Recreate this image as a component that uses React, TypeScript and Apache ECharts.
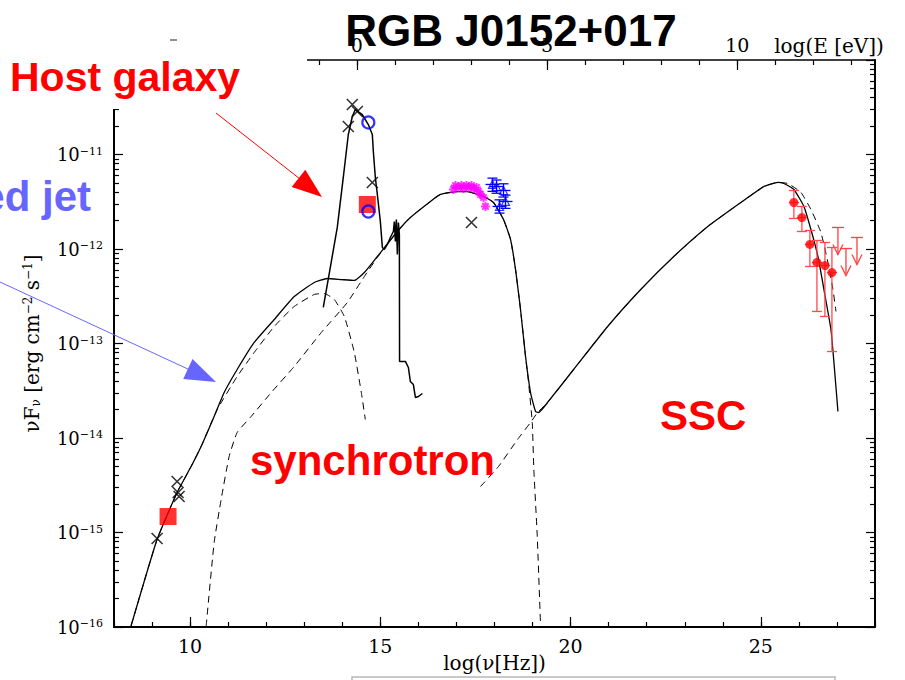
import React, { useEffect, useRef } from "react";
import * as echarts from "echarts";

// log10(h) with h in eV s : log E[eV] = log nu[Hz] + LOG_H_EV
const LOG_H_EV = -14.383;

// ---- Model curves: log(nu [Hz]) vs log(nuFnu [erg cm^-2 s^-1]) ----
const totalNu = [8.447, 9.132, 9.658, 10.026, 10.289, 10.632, 10.895, 11.237, 11.684, 12.211, 12.737, 13.263, 13.605, 13.974, 14.316, 14.579, 14.921, 15.447, 15.789, 16.316, 16.579, 17.026, 17.289, 17.711, 17.974, 18.237, 18.421, 18.553, 18.684, 18.816, 18.947, 19.079, 19.158, 19.395, 20.079, 20.974, 21.842, 22.711, 23.605, 24.474, 25.079, 25.447, 25.605, 25.868, 26.132, 26.316, 26.5, 26.658, 26.842, 26.921, 27.026];
const totalF = [-15.99, -15.074, -14.577, -14.302, -14.09, -13.772, -13.519, -13.275, -12.989, -12.746, -12.503, -12.354, -12.312, -12.323, -12.333, -12.249, -12.079, -11.815, -11.667, -11.497, -11.423, -11.392, -11.392, -11.444, -11.508, -11.688, -11.899, -12.217, -12.64, -13.138, -13.519, -13.72, -13.73, -13.624, -13.275, -12.82, -12.429, -12.079, -11.762, -11.508, -11.339, -11.296, -11.307, -11.37, -11.55, -11.794, -12.079, -12.429, -12.852, -13.201, -13.72];

const jetNu = [8.447, 9.132, 9.658, 10.026, 10.289, 10.711, 11.237, 11.684, 12.211, 12.737, 13.263, 13.526, 13.789, 14.053, 14.316, 14.5, 14.605];
const jetF = [-15.99, -15.074, -14.577, -14.302, -14.09, -13.7, -13.349, -13.095, -12.82, -12.608, -12.481, -12.471, -12.534, -12.714, -13.095, -13.519, -13.804];

const synNu = [10.421, 10.632, 10.816, 11.026, 11.237, 11.605, 12.132, 12.737, 13.447, 14.132, 14.579, 14.921, 15.447, 15.789, 16.316, 16.579, 17.026, 17.289, 17.711, 17.974, 18.237, 18.421, 18.553, 18.684, 18.816, 18.895, 18.992, 19.034, 19.124, 19.211];
const synF = [-15.995, -15.106, -14.651, -14.196, -13.942, -13.772, -13.519, -13.243, -12.884, -12.566, -12.291, -12.09, -11.815, -11.667, -11.497, -11.423, -11.392, -11.392, -11.444, -11.508, -11.688, -11.899, -12.217, -12.64, -13.138, -13.413, -13.836, -14.333, -15.042, -15.995];

const sscNu = [17.632, 18.105, 18.605, 18.947, 19.132, 19.395, 20.079, 20.974, 21.842, 22.711, 23.605, 24.474, 25.079, 25.447, 25.711, 26.053, 26.316, 26.579, 26.763, 26.895, 26.974];
const sscF = [-14.513, -14.302, -14.016, -13.836, -13.73, -13.624, -13.275, -12.82, -12.429, -12.079, -11.762, -11.508, -11.339, -11.296, -11.307, -11.402, -11.582, -11.825, -12.143, -12.429, -12.661];

const hostNu = [13.5, 13.684, 13.868, 14.026, 14.158, 14.263, 14.342, 14.526, 14.684, 14.789, 14.816, 14.868, 14.921, 15.0, 15.053, 15.105, 15.184, 15.263, 15.342, 15.368, 15.395, 15.421, 15.447, 15.474, 15.5, 15.505, 15.658, 15.737, 15.789, 15.868, 15.921, 16.0, 16.105];
const hostF = [-12.619, -12.196, -11.772, -11.243, -10.788, -10.598, -10.524, -10.577, -10.683, -10.788, -10.968, -11.243, -11.423, -11.709, -11.984, -12.005, -11.952, -11.878, -11.815, -11.709, -11.921, -11.688, -12.058, -11.72, -11.847, -13.19, -13.19, -13.254, -13.402, -13.434, -13.571, -13.561, -13.529];

// ---- Data points ----
const crossNu = [9.132, 9.658, 9.684, 9.711, 14.263, 14.395, 14.158, 14.789, 17.395];
const crossF = [-15.063, -14.46, -14.577, -14.619, -10.471, -10.545, -10.704, -11.296, -11.72];

const squareNu = [9.421, 14.658];
const squareF = [-14.831, -11.529];

const circleNu = [14.684, 14.684];
const circleF = [-10.661, -11.603];

const uvNu = [16.921, 16.974, 17.053, 17.132, 17.184, 17.263, 17.316, 17.395, 17.447, 17.526, 17.579, 17.632, 17.711, 17.763];
const uvF = [-11.37, -11.328, -11.349, -11.328, -11.36, -11.328, -11.349, -11.328, -11.36, -11.349, -11.392, -11.423, -11.455, -11.55];

const xrayNu = [17.947, 18.053, 18.237, 18.289, 18.132];
const xrayF = [-11.317, -11.339, -11.381, -11.497, -11.55];
const xrayLo = [-11.39, -11.41, -11.45, -11.57, -11.62];
const xrayHi = [-11.25, -11.27, -11.31, -11.43, -11.48];

const gamNu = [25.868, 26.079, 26.289, 26.474, 26.684, 26.868];
const gamF = [-11.508, -11.667, -11.952, -12.143, -12.175, -12.249];
const gamHi = [-11.381, -11.55, -11.804, -11.91, -11.931, -11.984];
const gamLo = [-11.677, -11.815, -12.185, -12.661, -12.714, -13.085];

const ulNu = [27.026, 27.237, 27.526];
const ulF = [-11.772, -11.995, -11.878];

// ---- Tick values ----
const xLabels = [10, 15, 20, 25];
const topLabels = [0, 5, 10];

const zip = (a: number[], b: number[]) => a.map((v, i) => [v, b[i]]);

const yMinor: number[] = [];
for (let n = -16; n < -10; n++) for (let k = 2; k <= 9; k++) yMinor.push(n + Math.log10(k));
const topMinor: number[] = [];
for (let e = -6; e <= 13; e++) topMinor.push(e);

const SERIF = "DejaVu Serif";
const SANS = "Liberation Sans";

function errRender(color: string, cap: number, xHalf: number) {
  return (params: any, api: any) => {
    const x = api.value(0), y = api.value(1), lo = api.value(2), hi = api.value(3);
    const c = api.coord([x, y]);
    const pl = api.coord([x, lo]);
    const ph = api.coord([x, hi]);
    const st = { stroke: color, lineWidth: 1.3 };
    return {
      type: "group",
      children: [
        { type: "line", shape: { x1: c[0], y1: ph[1], x2: c[0], y2: pl[1] }, style: st },
        { type: "line", shape: { x1: c[0] - cap, y1: ph[1], x2: c[0] + cap, y2: ph[1] }, style: st },
        { type: "line", shape: { x1: c[0] - cap, y1: pl[1], x2: c[0] + cap, y2: pl[1] }, style: st },
        { type: "line", shape: { x1: c[0] - xHalf, y1: c[1], x2: c[0] + xHalf, y2: c[1] }, style: st },
      ],
    };
  };
}

function ulRender(params: any, api: any) {
  const p = api.coord([api.value(0), api.value(1)]);
  const len = 27;
  const st = { stroke: "#ff4040", lineWidth: 1.3, fill: "none" };
  return {
    type: "group",
    children: [
      { type: "line", shape: { x1: p[0] - 6, y1: p[1], x2: p[0] + 6, y2: p[1] }, style: st },
      { type: "line", shape: { x1: p[0], y1: p[1], x2: p[0], y2: p[1] + len }, style: st },
      { type: "polyline", shape: { points: [[p[0] - 5, p[1] + len - 10], [p[0], p[1] + len], [p[0] + 5, p[1] + len - 10]] }, style: st },
    ],
  };
}

const CROSS = "path://M0,0L10,10M10,0L0,10";
const ASTER = "path://M0,5L10,5M5,0L5,10M1.5,1.5L8.5,8.5M8.5,1.5L1.5,8.5";

const tickStyle = { color: "#000", width: 1.2 };

function arrowHead(tip: number[], from: number[], len: number, half: number) {
  const dx = tip[0] - from[0], dy = tip[1] - from[1];
  const d = Math.hypot(dx, dy);
  const ux = dx / d, uy = dy / d;
  const bx = tip[0] - ux * len, by = tip[1] - uy * len;
  return [tip, [bx - uy * half, by + ux * half], [bx + uy * half, by - ux * half]];
}

const SMOOTH = 0.15;

const option: any = {
  animation: false,
  backgroundColor: "#fff",
  grid: { left: 114, right: 30, top: 60, bottom: 53, containLabel: false, outerBoundsMode: "none" },
  xAxis: [
    {
      type: "value", position: "bottom", min: 8, max: 28, interval: 1,
      axisLine: { onZero: false, lineStyle: { color: "#000", width: 2 } },
      axisTick: { inside: true, length: 5, lineStyle: tickStyle },
      axisLabel: {
        formatter: (v: number) => (xLabels.indexOf(v) >= 0 ? String(v) : ""),
        fontFamily: SERIF, fontSize: 19, color: "#000", margin: 9,
      },
      splitLine: { show: false },
      name: "log(ν[Hz])", nameLocation: "middle", nameGap: 26, nameMoveOverlap: false,
      nameTextStyle: { fontFamily: SERIF, fontSize: 20, color: "#000" },
    },
    {
      type: "value", position: "bottom", min: 8, max: 28,
      axisLine: { show: false, onZero: false },
      axisTick: { inside: true, length: 10, lineStyle: tickStyle, customValues: xLabels },
      axisLabel: { show: false },
      splitLine: { show: false },
    },
    {
      type: "value", position: "top", min: 8 + LOG_H_EV, max: 28 + LOG_H_EV,
      axisLine: { onZero: false, lineStyle: { color: "#000", width: 1.5 } },
      axisTick: { inside: true, length: 5, lineStyle: tickStyle, customValues: topMinor },
      axisLabel: { customValues: topLabels, fontFamily: SERIF, fontSize: 19, color: "#000", margin: 6 },
      splitLine: { show: false },
    },
    {
      type: "value", position: "top", min: 8 + LOG_H_EV, max: 28 + LOG_H_EV,
      axisLine: { show: false, onZero: false },
      axisTick: { inside: true, length: 10, lineStyle: tickStyle, customValues: topLabels },
      axisLabel: { show: false },
      splitLine: { show: false },
    },
  ],
  yAxis: [
    {
      type: "value", position: "left", min: -16, max: -10, interval: 1,
      axisLine: { onZero: false, lineStyle: { color: "#000", width: 2 } },
      axisTick: { inside: true, length: 9, lineStyle: tickStyle },
      axisLabel: {
        formatter: (v: number) => "{b|10}{s|−" + Math.abs(v) + "}",
        margin: 11, color: "#000",
        rich: {
          b: { fontFamily: SERIF, fontSize: 18, lineHeight: 18, color: "#000" },
          s: { fontFamily: SERIF, fontSize: 11, lineHeight: 8, verticalAlign: "top", color: "#000" },
        },
      },
      splitLine: { show: false },
      name: "{n|ν}F{sub|ν} [erg cm{sup|−2} s{sup|−1}]",
      nameLocation: "middle", nameGap: 72, nameRotate: 90, nameMoveOverlap: false,
      nameTextStyle: {
        fontFamily: SERIF, fontSize: 20, color: "#000", lineHeight: 20,
        rich: {
          n: { fontFamily: SERIF, fontSize: 20, lineHeight: 20, color: "#000" },
          sub: { fontFamily: SERIF, fontSize: 12, lineHeight: 8, verticalAlign: "bottom", color: "#000" },
          sup: { fontFamily: SERIF, fontSize: 12, lineHeight: 8, verticalAlign: "top", color: "#000" },
        },
      },
    },
    {
      type: "value", position: "left", min: -16, max: -10,
      axisLine: { show: false, onZero: false },
      axisTick: { show: true, inside: true, length: 5, lineStyle: tickStyle, customValues: yMinor },
      axisLabel: { show: false },
      splitLine: { show: false },
    },
    {
      type: "value", position: "right", min: -16, max: -10, interval: 1,
      axisLine: { onZero: false, lineStyle: { color: "#000", width: 2 } },
      axisTick: { inside: true, length: 9, lineStyle: tickStyle },
      axisLabel: { show: false },
      splitLine: { show: false },
    },
    {
      type: "value", position: "right", min: -16, max: -10,
      axisLine: { show: false, onZero: false },
      axisTick: { show: true, inside: true, length: 5, lineStyle: tickStyle, customValues: yMinor },
      axisLabel: { show: false },
      splitLine: { show: false },
    },
  ],
  series: [
    {
      name: "jet", type: "line", data: zip(jetNu, jetF), showSymbol: false, smooth: SMOOTH,
      lineStyle: { color: "#000", width: 1, type: [7, 5] }, silent: true, z: 2,
    },
    {
      name: "synchrotron", type: "line", data: zip(synNu, synF), showSymbol: false, smooth: SMOOTH,
      lineStyle: { color: "#000", width: 1, type: [7, 5] }, silent: true, z: 2,
    },
    {
      name: "SSC", type: "line", data: zip(sscNu, sscF), showSymbol: false, smooth: SMOOTH,
      lineStyle: { color: "#000", width: 1, type: [7, 5] }, silent: true, z: 2,
    },
    {
      name: "total", type: "line", data: zip(totalNu, totalF), showSymbol: false, smooth: SMOOTH,
      lineStyle: { color: "#000", width: 1.3 }, silent: true, z: 3,
    },
    {
      name: "host", type: "line", data: zip(hostNu, hostF), showSymbol: false, smooth: false,
      lineStyle: { color: "#000", width: 1.5 }, silent: true, z: 3,
    },
    {
      name: "uv", type: "scatter", data: zip(uvNu, uvF), symbol: ASTER, symbolSize: 9,
      itemStyle: { color: "rgba(0,0,0,0)", borderColor: "#ff00ff", borderWidth: 2 }, silent: true, z: 4,
    },
    {
      name: "xrayErr", type: "custom", data: xrayNu.map((v, i) => [v, xrayF[i], xrayLo[i], xrayHi[i]]),
      encode: { x: 0, y: 1 }, renderItem: errRender("#0000ff", 5, 7), silent: true, z: 4,
    },
    {
      name: "xray", type: "scatter", data: zip(xrayNu, xrayF), symbol: "triangle", symbolSize: 8,
      itemStyle: { color: "rgba(0,0,0,0)", borderColor: "#0000ff", borderWidth: 1.2 }, silent: true, z: 5,
    },
    {
      name: "gamErr", type: "custom", data: gamNu.map((v, i) => [v, gamF[i], gamLo[i], gamHi[i]]),
      encode: { x: 0, y: 1 }, renderItem: errRender("#ff4a4a", 5, 5), silent: true, z: 4,
    },
    {
      name: "gam", type: "scatter", data: zip(gamNu, gamF), symbol: "circle", symbolSize: 9,
      itemStyle: { color: "#ff0000" }, silent: true, z: 5,
    },
    {
      name: "ul", type: "custom", data: zip(ulNu, ulF), encode: { x: 0, y: 1 }, renderItem: ulRender, silent: true, z: 4,
    },
    {
      name: "squares", type: "scatter", data: zip(squareNu, squareF), symbol: "rect", symbolSize: 17,
      itemStyle: { color: "#ff0000" }, silent: true, z: 5,
    },
    {
      name: "cross", type: "scatter", data: zip(crossNu, crossF), symbol: CROSS, symbolSize: 11,
      itemStyle: { color: "rgba(0,0,0,0)", borderColor: "#000", borderWidth: 1.6 }, silent: true, z: 6,
    },
    {
      name: "circles", type: "scatter", data: zip(circleNu, circleF), symbol: "circle", symbolSize: 12,
      itemStyle: { color: "rgba(0,0,0,0)", borderColor: "#0000ff", borderWidth: 2.2 }, silent: true, z: 7,
    },
  ],
  graphic: [
    { type: "rect", z: 100, shape: { x: 0, y: 0, width: 307, height: 109 }, style: { fill: "#fff" } },
    { type: "line", z: 101, shape: { x1: 170, y1: 40, x2: 177, y2: 40 }, style: { stroke: "#444", lineWidth: 1.2 } },
    {
      type: "text", z: 101, x: 829, y: 46,
      style: { text: "log(E [eV])", fontFamily: SERIF, fontSize: 20, fill: "#000", align: "center", verticalAlign: "middle" },
    },
    {
      type: "text", z: 102, x: 511, y: 30,
      style: { text: "RGB J0152+017", fontFamily: SANS, fontWeight: "bold", fontSize: 44, fill: "#000", align: "center", verticalAlign: "middle" },
    },
    {
      type: "text", z: 102, x: 10, y: 77,
      style: { text: "Host galaxy", fontFamily: SANS, fontWeight: "bold", fontSize: 41, fill: "#ff0000", align: "left", verticalAlign: "middle" },
    },
    {
      type: "text", z: 102, x: 91, y: 196,
      style: { text: "ed jet", fontFamily: SANS, fontWeight: "bold", fontSize: 42, fill: "#6666ff", align: "right", verticalAlign: "middle" },
    },
    {
      type: "text", z: 102, x: 250, y: 460,
      style: { text: "synchrotron", fontFamily: SANS, fontWeight: "bold", fontSize: 42, fill: "#ff0000", align: "left", verticalAlign: "middle" },
    },
    {
      type: "text", z: 102, x: 660, y: 415,
      style: { text: "SSC", fontFamily: SANS, fontWeight: "bold", fontSize: 42, fill: "#ff0000", align: "left", verticalAlign: "middle" },
    },
    { type: "line", z: 102, shape: { x1: 216, y1: 113, x2: 300, y2: 179 }, style: { stroke: "#ff0000", lineWidth: 1 } },
    { type: "polygon", z: 102, shape: { points: arrowHead([322, 197], [216, 113], 30, 11) }, style: { fill: "#ff0000" } },
    { type: "line", z: 102, shape: { x1: 0, y1: 282, x2: 190, y2: 370 }, style: { stroke: "#6666ff", lineWidth: 1 } },
    { type: "polygon", z: 102, shape: { points: arrowHead([216, 382], [0, 282], 31, 11) }, style: { fill: "#6666ff" } },
    { type: "rect", z: 102, shape: { x: 352, y: 677, width: 483, height: 20 }, style: { fill: "none", stroke: "#b8b8b8", lineWidth: 1.5 } },
  ],
};

export default function App() {
  const ref = useRef<HTMLDivElement>(null);
  useEffect(() => {
    document.body.style.margin = "0";
    const chart = echarts.init(ref.current as HTMLDivElement, null, { renderer: "svg" });
    chart.setOption(option);
    return () => chart.dispose();
  }, []);
  return <div ref={ref} style={{ position: "absolute", left: 0, top: 0, width: 905, height: 680 }} />;
}
